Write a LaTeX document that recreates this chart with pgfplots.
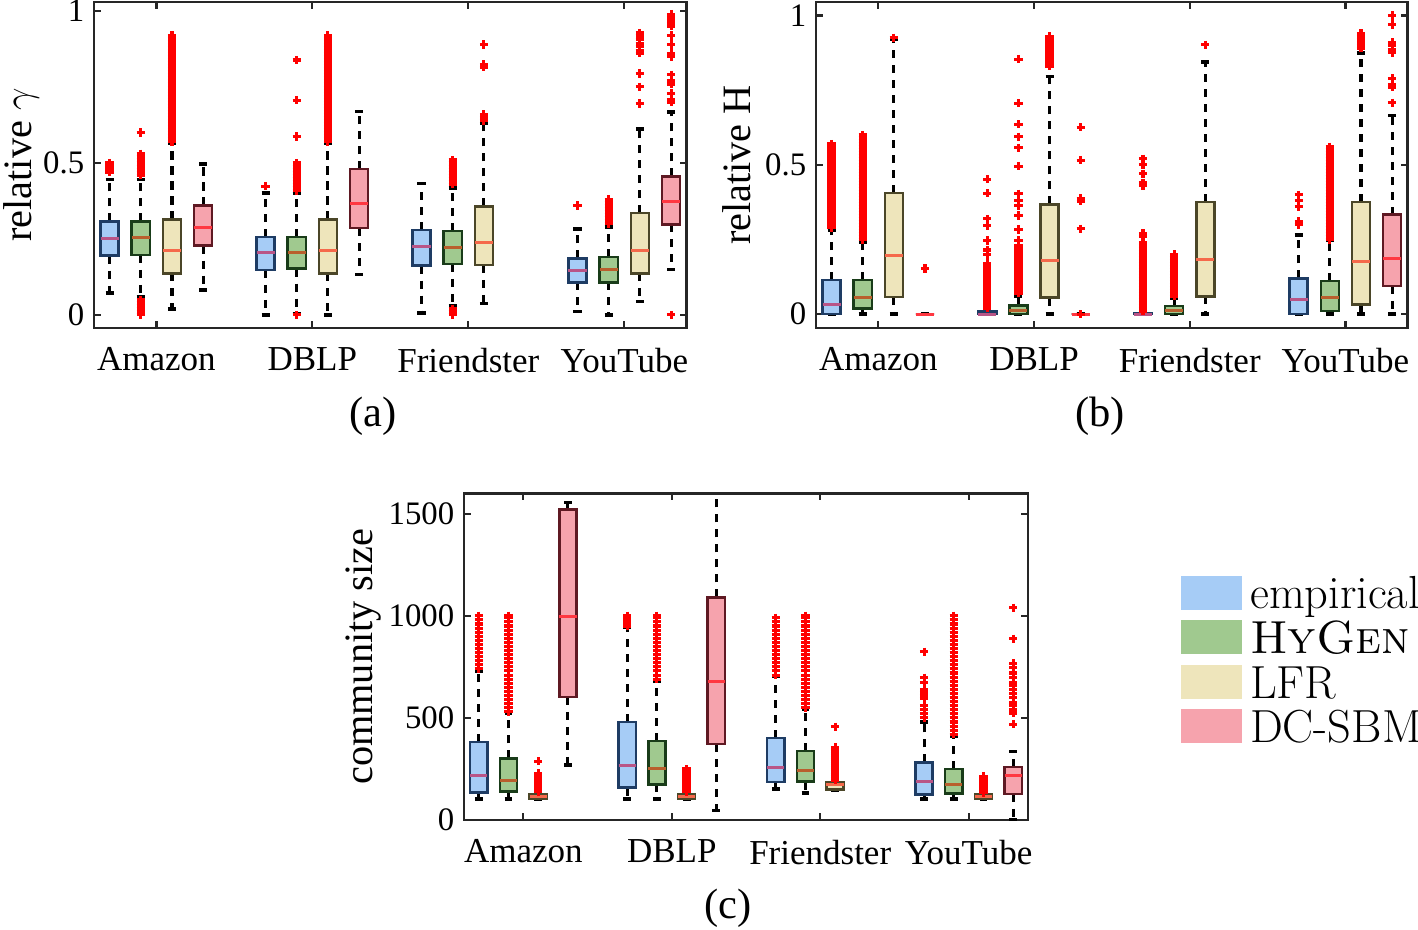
\documentclass[border=0pt]{standalone}
\usepackage{fontspec}
\usepackage{pgfplots}
\pgfplotsset{compat=1.18}
\usepgfplotslibrary{statistics}
\newfontfamily\tnr{Liberation Serif}

\definecolor{empF}{RGB}{166,204,246}
\definecolor{empE}{RGB}{30,60,100}
\definecolor{empM}{RGB}{185,85,135}
\definecolor{hygF}{RGB}{160,201,143}
\definecolor{hygE}{RGB}{25,60,25}
\definecolor{hygM}{RGB}{185,95,45}
\definecolor{lfrF}{RGB}{238,229,187}
\definecolor{lfrE}{RGB}{75,70,40}
\definecolor{lfrM}{RGB}{245,105,75}
\definecolor{dcsF}{RGB}{246,163,173}
\definecolor{dcsE}{RGB}{95,25,35}
\definecolor{dcsM}{RGB}{255,55,65}
\definecolor{axgray}{RGB}{38,38,38}

\pgfplotsset{
 /pgfplots/boxplot/draw/whisker/.code 2 args={
  \draw[black,line width=1.1pt,dash pattern=on 2.9pt off 2.5pt] (boxplot cs:#1) -- (boxplot cs:#2);
  \draw[black,line width=1.3pt] (boxplot whisker cs:#2,0) -- (boxplot whisker cs:#2,1);
 },
 bxbase/.style={mark=+, mark size=1.5pt, mark options={draw=red, line width=1.1pt, solid}},
 emp/.style={bxbase, boxplot/every box/.style={draw=empE, fill=empF, line width=0.9pt}, boxplot/every median/.style={draw=empM, line width=1.1pt}},
 hyg/.style={bxbase, boxplot/every box/.style={draw=hygE, fill=hygF, line width=0.9pt}, boxplot/every median/.style={draw=hygM, line width=1.1pt}},
 lfr/.style={bxbase, boxplot/every box/.style={draw=lfrE, fill=lfrF, line width=0.9pt}, boxplot/every median/.style={draw=lfrM, line width=1.1pt}},
 dcs/.style={bxbase, boxplot/every box/.style={draw=dcsE, fill=dcsF, line width=0.9pt}, boxplot/every median/.style={draw=dcsM, line width=1.1pt}},
 myax/.style={scale only axis, xmin=0.5, xmax=19.5,
  xtick={2.5,7.5,12.5,17.5}, xticklabels={Amazon,DBLP,Friendster,YouTube},
  boxplot/draw direction=y, boxplot/box extend=0.58, boxplot/whisker extend=0.26,
  tick align=inside, major tick length=2.4pt,
  axis line style={draw=axgray,line width=0.9pt},
  every tick/.style={axgray,line width=0.8pt},
  yticklabel style={font=\tnr\fontsize{11.8}{13}\selectfont},
  xticklabel style={font=\tnr\fontsize{12.6}{14}\selectfont, yshift=-3.6pt},
  label style={font=\tnr\fontsize{14.5}{16}\selectfont},
  /pgf/number format/assume math mode=true,
  /pgf/number format/set thousands separator={}},
}
\newcommand\B[7]{\addplot[#1, boxplot prepared={draw position=#2, lower whisker=#3, lower quartile=#4, median=#5, upper quartile=#6, upper whisker=#7}]}

\begin{document}
\begin{tikzpicture}
\path[use as bounding box] (0,0) rectangle (510.48pt,334.44pt);

% ---------------- (a) relative gamma
\begin{axis}[myax, at={(33.84pt,216.36pt)}, anchor=south west, width=213.37pt, height=117.36pt,
  ymin=-0.043, ymax=1.03, ytick={0,0.5,1}, ylabel={relative $\gamma$},
  ylabel style={at={(axis description cs:-0.106,0.5)}, anchor=base}]
\B{emp}{1}{0.073}{0.195}{0.252}{0.308}{0.446} coordinates {(0,0.47)(0,0.48)(0,0.49)(0,0.50)};
\B{hyg}{2}{0.06}{0.198}{0.254}{0.308}{0.446} coordinates {(0,0)(0,0.01)(0,0.02)(0,0.03)(0,0.04)(0,0.05)(0,0.46)(0,0.47)(0,0.48)(0,0.49)(0,0.50)(0,0.51)(0,0.52)(0,0.53)(0,0.60)};
\B{lfr}{3}{0.02}{0.137}{0.212}{0.314}{0.564} coordinates {(0,0.57)(0,0.58)(0,0.59)(0,0.60)(0,0.61)(0,0.62)(0,0.63)(0,0.64)(0,0.65)(0,0.66)(0,0.67)(0,0.68)(0,0.69)(0,0.70)(0,0.71)(0,0.72)(0,0.73)(0,0.74)(0,0.75)(0,0.76)(0,0.77)(0,0.78)(0,0.79)(0,0.80)(0,0.81)(0,0.82)(0,0.83)(0,0.84)(0,0.85)(0,0.86)(0,0.87)(0,0.88)(0,0.89)(0,0.90)(0,0.91)(0,0.92)};
\B{dcs}{4}{0.082}{0.228}{0.289}{0.36}{0.496} coordinates {};
\B{emp}{6}{0}{0.148}{0.207}{0.256}{0.402} coordinates {(0,0.424)};
\B{hyg}{7}{0.003}{0.152}{0.204}{0.256}{0.40} coordinates {(0,0)(0,0.41)(0,0.42)(0,0.43)(0,0.44)(0,0.45)(0,0.46)(0,0.47)(0,0.48)(0,0.49)(0,0.50)(0,0.587)(0,0.707)(0,0.839)};
\B{lfr}{8}{0}{0.137}{0.212}{0.314}{0.566} coordinates {(0,0.57)(0,0.58)(0,0.59)(0,0.60)(0,0.61)(0,0.62)(0,0.63)(0,0.64)(0,0.65)(0,0.66)(0,0.67)(0,0.68)(0,0.69)(0,0.70)(0,0.71)(0,0.72)(0,0.73)(0,0.74)(0,0.75)(0,0.76)(0,0.77)(0,0.78)(0,0.79)(0,0.80)(0,0.81)(0,0.82)(0,0.83)(0,0.84)(0,0.85)(0,0.86)(0,0.87)(0,0.88)(0,0.89)(0,0.90)(0,0.91)(0,0.92)};
\B{dcs}{9}{0.133}{0.286}{0.366}{0.48}{0.67} coordinates {};
\B{emp}{11}{0.006}{0.162}{0.224}{0.280}{0.432} coordinates {};
\B{hyg}{12}{0.03}{0.168}{0.223}{0.276}{0.418} coordinates {(0,0)(0,0.01)(0,0.02)(0,0.43)(0,0.44)(0,0.45)(0,0.46)(0,0.47)(0,0.48)(0,0.49)(0,0.50)(0,0.51)};
\B{lfr}{13}{0.038}{0.165}{0.237}{0.357}{0.63} coordinates {(0,0.64)(0,0.65)(0,0.66)(0,0.815)(0,0.825)(0,0.89)};
\B{emp}{16}{0.011}{0.107}{0.146}{0.186}{0.283} coordinates {(0,0.36)};
\B{hyg}{17}{0}{0.107}{0.148}{0.190}{0.29} coordinates {(0,0.30)(0,0.31)(0,0.32)(0,0.33)(0,0.34)(0,0.35)(0,0.36)(0,0.37)(0,0.38)};
\B{lfr}{18}{0.044}{0.137}{0.212}{0.335}{0.611} coordinates {(0,0.696)(0,0.751)(0,0.795)(0,0.861)(0,0.871)(0,0.883)(0,0.894)(0,0.905)(0,0.918)(0,0.928)};
\B{dcs}{19}{0.149}{0.298}{0.373}{0.456}{0.667} coordinates {(0,0)(0,0.70)(0,0.71)(0,0.73)(0,0.76)(0,0.77)(0,0.79)(0,0.85)(0,0.86)(0,0.89)(0,0.92)(0,0.95)(0,0.96)(0,0.97)(0,0.98)(0,0.99)};
\end{axis}

% ---------------- (b) relative H
\begin{axis}[myax, at={(293.76pt,216.36pt)}, anchor=south west, width=213.01pt, height=117.36pt,
  ymin=-0.046, ymax=1.045, ytick={0,0.5,1}, ylabel={relative H},
  ylabel style={at={(axis description cs:-0.11,0.5)}, anchor=base}]
\B{emp}{1}{0}{0}{0.034}{0.114}{0.28} coordinates {(0,0.29)(0,0.30)(0,0.31)(0,0.32)(0,0.33)(0,0.34)(0,0.35)(0,0.36)(0,0.37)(0,0.38)(0,0.39)(0,0.40)(0,0.41)(0,0.42)(0,0.43)(0,0.44)(0,0.45)(0,0.46)(0,0.47)(0,0.48)(0,0.49)(0,0.50)(0,0.51)(0,0.52)(0,0.53)(0,0.54)(0,0.55)(0,0.56)(0,0.57)};
\B{hyg}{2}{0}{0.020}{0.056}{0.114}{0.242} coordinates {(0,0.25)(0,0.26)(0,0.27)(0,0.28)(0,0.29)(0,0.30)(0,0.31)(0,0.32)(0,0.33)(0,0.34)(0,0.35)(0,0.36)(0,0.37)(0,0.38)(0,0.39)(0,0.40)(0,0.41)(0,0.42)(0,0.43)(0,0.44)(0,0.45)(0,0.46)(0,0.47)(0,0.48)(0,0.49)(0,0.50)(0,0.51)(0,0.52)(0,0.53)(0,0.54)(0,0.55)(0,0.56)(0,0.57)(0,0.58)(0,0.59)(0,0.60)};
\B{lfr}{3}{0}{0.058}{0.196}{0.406}{0.919} coordinates {(0,0.925)};
\B{dcs}{4}{0}{0}{0}{0}{0} coordinates {(0,0.153)};
\B{emp}{6}{0}{0}{0}{0.01}{0.015} coordinates {(0,0.02)(0,0.03)(0,0.04)(0,0.05)(0,0.06)(0,0.07)(0,0.08)(0,0.09)(0,0.10)(0,0.11)(0,0.12)(0,0.13)(0,0.14)(0,0.15)(0,0.16)(0,0.17)(0,0.20)(0,0.215)(0,0.247)(0,0.296)(0,0.319)(0,0.405)(0,0.452)};
\B{hyg}{7}{0}{0}{0.011}{0.030}{0.06} coordinates {(0,0.07)(0,0.08)(0,0.09)(0,0.10)(0,0.11)(0,0.12)(0,0.13)(0,0.14)(0,0.15)(0,0.16)(0,0.17)(0,0.18)(0,0.19)(0,0.20)(0,0.21)(0,0.22)(0,0.23)(0,0.247)(0,0.284)(0,0.330)(0,0.364)(0,0.381)(0,0.403)(0,0.496)(0,0.557)(0,0.594)(0,0.636)(0,0.706)(0,0.854)};
\B{lfr}{8}{0}{0.056}{0.180}{0.368}{0.796} coordinates {(0,0.83)(0,0.84)(0,0.85)(0,0.86)(0,0.87)(0,0.88)(0,0.89)(0,0.90)(0,0.91)(0,0.92)(0,0.93)};
\B{dcs}{9}{0}{0}{0}{0}{0} coordinates {(0,0)(0,0.286)(0,0.378)(0,0.387)(0,0.516)(0,0.626)};
\B{emp}{11}{0}{0}{0}{0.003}{0.005} coordinates {(0,0.01)(0,0.02)(0,0.03)(0,0.04)(0,0.05)(0,0.06)(0,0.07)(0,0.08)(0,0.09)(0,0.10)(0,0.11)(0,0.12)(0,0.13)(0,0.14)(0,0.15)(0,0.16)(0,0.17)(0,0.18)(0,0.19)(0,0.20)(0,0.21)(0,0.22)(0,0.23)(0,0.24)(0,0.26)(0,0.27)(0,0.43)(0,0.44)(0,0.47)(0,0.50)(0,0.52)};
\B{hyg}{12}{0}{0}{0.011}{0.028}{0.055} coordinates {(0,0.06)(0,0.07)(0,0.08)(0,0.09)(0,0.10)(0,0.11)(0,0.12)(0,0.13)(0,0.14)(0,0.15)(0,0.16)(0,0.17)(0,0.18)(0,0.19)(0,0.20)};
\B{lfr}{13}{0}{0.060}{0.182}{0.376}{0.844} coordinates {(0,0.902)};
\B{emp}{16}{0}{0}{0.050}{0.120}{0.266} coordinates {(0,0.30)(0,0.31)(0,0.36)(0,0.38)(0,0.40)};
\B{hyg}{17}{0}{0.011}{0.056}{0.112}{0.247} coordinates {(0,0.25)(0,0.26)(0,0.27)(0,0.28)(0,0.29)(0,0.30)(0,0.31)(0,0.32)(0,0.33)(0,0.34)(0,0.35)(0,0.36)(0,0.37)(0,0.38)(0,0.39)(0,0.40)(0,0.41)(0,0.42)(0,0.43)(0,0.44)(0,0.45)(0,0.46)(0,0.47)(0,0.48)(0,0.49)(0,0.50)(0,0.51)(0,0.52)(0,0.53)(0,0.54)(0,0.55)(0,0.56)};
\B{lfr}{18}{0}{0.033}{0.176}{0.376}{0.875} coordinates {(0,0.89)(0,0.90)(0,0.91)(0,0.92)(0,0.93)(0,0.94)};
\B{dcs}{19}{0}{0.095}{0.187}{0.333}{0.665} coordinates {(0,0.708)(0,0.76)(0,0.77)(0,0.79)(0,0.875)(0,0.885)(0,0.90)(0,0.91)(0,0.97)(0,1.0)};
\end{axis}

% ---------------- (c) community size
\begin{axis}[myax, at={(167.04pt,39.24pt)}, anchor=south west, width=203.04pt, height=117.61pt,
  ymin=0, ymax=1600, ytick={0,500,1000,1500}, ylabel={community size},
  ylabel style={at={(axis description cs:-0.163,0.5)}, anchor=base},
  legend style={at={(1.2713,0.7484)}, anchor=north west, draw=none, fill=none,
    font=\fontsize{16.7}{17}\selectfont, nodes={inner sep=0pt, text height=11.6pt, text depth=4pt},
    row sep=0pt, column sep=2.9pt, inner sep=0pt, outer sep=0pt},
  legend cell align=left]
\addlegendimage{legend image code/.code={\fill[empF] (0pt,-3.85pt) rectangle (21.6pt,8.05pt);}}
\addlegendentry{empirical}
\addlegendimage{legend image code/.code={\fill[hygF] (0pt,-3.85pt) rectangle (21.6pt,8.05pt);}}
\addlegendentry{\textsc{HyGen}}
\addlegendimage{legend image code/.code={\fill[lfrF] (0pt,-3.85pt) rectangle (21.6pt,8.05pt);}}
\addlegendentry{LFR}
\addlegendimage{legend image code/.code={\fill[dcsF] (0pt,-3.85pt) rectangle (21.6pt,8.05pt);}}
\addlegendentry{DC-SBM}
\B{emp}{1}{102}{134}{220}{382}{729} coordinates {(0,740)(0,760)(0,780)(0,800)(0,820)(0,840)(0,860)(0,880)(0,900)(0,920)(0,940)(0,960)(0,980)(0,1000)};
\B{hyg}{2}{102}{139}{193}{302}{524} coordinates {(0,530)(0,550)(0,570)(0,590)(0,610)(0,630)(0,650)(0,670)(0,690)(0,710)(0,730)(0,750)(0,770)(0,790)(0,810)(0,830)(0,850)(0,870)(0,890)(0,910)(0,930)(0,950)(0,970)(0,990)(0,1000)};
\B{lfr}{3}{100}{102}{115}{126}{135} coordinates {(0,140)(0,150)(0,160)(0,170)(0,180)(0,190)(0,200)(0,210)(0,220)(0,230)(0,288)};
\B{dcs}{4}{270}{603}{998}{1521}{1554} coordinates {};
\B{emp}{6}{102}{159}{265}{480}{942} coordinates {(0,950)(0,960)(0,970)(0,980)(0,990)(0,1000)};
\B{hyg}{7}{102}{175}{254}{388}{680} coordinates {(0,690)(0,710)(0,730)(0,750)(0,770)(0,790)(0,810)(0,830)(0,850)(0,870)(0,890)(0,910)(0,930)(0,950)(0,970)(0,990)(0,1000)};
\B{lfr}{8}{100}{102}{114}{126}{135} coordinates {(0,140)(0,150)(0,160)(0,170)(0,180)(0,190)(0,200)(0,210)(0,220)(0,230)(0,240)(0,250)};
\B{dcs}{9}{46}{372}{677}{1090}{1700} coordinates {};
\B{emp}{11}{151}{185}{259}{402}{705} coordinates {(0,710)(0,730)(0,750)(0,770)(0,790)(0,810)(0,830)(0,850)(0,870)(0,890)(0,910)(0,930)(0,950)(0,970)(0,990)};
\B{hyg}{12}{131}{188}{241}{339}{541} coordinates {(0,550)(0,570)(0,590)(0,610)(0,630)(0,650)(0,670)(0,690)(0,710)(0,730)(0,750)(0,770)(0,790)(0,810)(0,830)(0,850)(0,870)(0,890)(0,910)(0,930)(0,950)(0,970)(0,990)(0,1000)};
\B{lfr}{13}{147}{150}{172}{185}{190} coordinates {(0,195)(0,205)(0,215)(0,225)(0,235)(0,245)(0,255)(0,265)(0,275)(0,285)(0,295)(0,305)(0,315)(0,325)(0,335)(0,345)(0,355)(0,456)};
\B{emp}{16}{102}{126}{188}{282}{480} coordinates {(0,500)(0,522)(0,540)(0,560)(0,595)(0,610)(0,625)(0,640)(0,672)(0,697)(0,824)};
\B{hyg}{17}{102}{131}{172}{251}{410} coordinates {(0,420)(0,440)(0,460)(0,480)(0,500)(0,520)(0,540)(0,560)(0,580)(0,600)(0,620)(0,640)(0,660)(0,680)(0,700)(0,720)(0,740)(0,760)(0,780)(0,800)(0,820)(0,840)(0,860)(0,880)(0,900)(0,920)(0,940)(0,960)(0,980)(0,1000)};
\B{lfr}{18}{100}{102}{114}{124}{130} coordinates {(0,135)(0,145)(0,155)(0,165)(0,175)(0,185)(0,195)(0,205)(0,215)};
\B{dcs}{19}{0}{128}{218}{259}{336} coordinates {(0,470)(0,524)(0,540)(0,560)(0,573)(0,598)(0,620)(0,640)(0,660)(0,672)(0,698)(0,720)(0,745)(0,767)(0,887)(0,1039)};
\end{axis}

\node[font=\tnr\fontsize{15.3}{17}\selectfont] at (134.3pt,184.7pt) {(a)};
\node[font=\tnr\fontsize{15.3}{17}\selectfont] at (396pt,184.7pt) {(b)};
\node[font=\tnr\fontsize{15.3}{17}\selectfont] at (262.1pt,7.6pt) {(c)};
\end{tikzpicture}
\end{document}
